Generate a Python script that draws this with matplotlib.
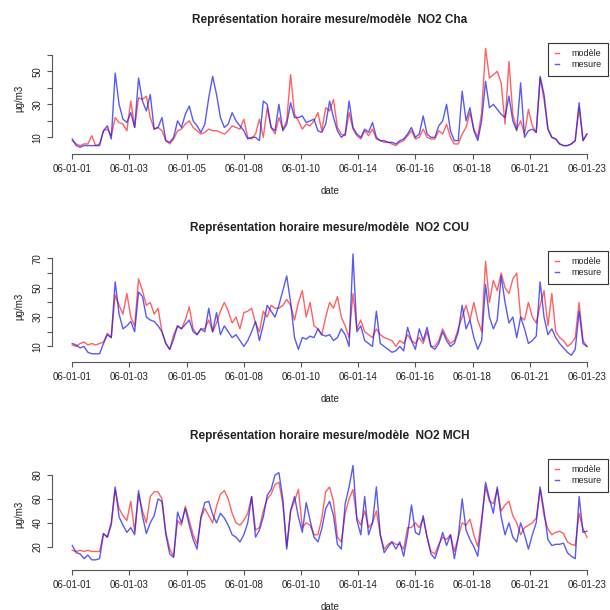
import numpy as np
import matplotlib.pyplot as plt

# 4-hourly values, 06-01-01 -> 06-01-23
tick_labels = ["06-01-01", "06-01-03", "06-01-05", "06-01-08", "06-01-10",
               "06-01-14", "06-01-16", "06-01-18", "06-01-21", "06-01-23"]

stations = ["Cha", "COU", "MCH"]

cha_mesure = [9, 5, 4, 5, 5, 5, 5, 5, 14, 17, 9, 49, 30, 21, 19, 25, 16, 46, 32, 26,
              36, 15, 16, 22, 8, 7, 10, 20, 16, 24, 29, 20, 17, 13, 18, 34, 47, 36, 22, 16,
              18, 25, 20, 17, 14, 9, 10, 10, 8, 32, 30, 16, 14, 30, 14, 18, 31, 22, 22, 23,
              19, 20, 21, 14, 13, 18, 32, 22, 14, 10, 12, 32, 16, 12, 10, 15, 13, 19, 10, 8,
              8, 7, 7, 6, 8, 9, 12, 16, 10, 12, 23, 12, 10, 10, 17, 20, 30, 14, 8, 8,
              38, 20, 28, 14, 8, 20, 44, 28, 30, 27, 24, 22, 35, 20, 14, 43, 10, 14, 15, 13,
              47, 36, 15, 10, 9, 6, 5, 5, 6, 8, 31, 8, 12]
cha_modele = [8, 6, 5, 6, 6, 11, 5, 6, 14, 15, 11, 22, 19, 18, 14, 32, 16, 34, 33, 35,
              22, 15, 16, 14, 8, 6, 9, 14, 15, 18, 20, 16, 14, 12, 13, 15, 14, 14, 13, 12,
              14, 17, 16, 15, 21, 10, 9, 12, 21, 10, 28, 16, 12, 22, 15, 20, 48, 24, 20, 15,
              18, 17, 20, 25, 14, 28, 26, 33, 16, 12, 11, 25, 15, 11, 9, 14, 11, 15, 9, 8,
              7, 7, 6, 5, 7, 8, 11, 14, 9, 10, 15, 10, 9, 9, 14, 12, 18, 10, 6, 6,
              12, 16, 25, 15, 10, 25, 64, 46, 48, 50, 43, 18, 56, 24, 15, 20, 12, 27, 17, 13,
              46, 33, 15, 10, 9, 6, 5, 5, 6, 8, 28, 8, 12]

cou_mesure = [12, 11, 9, 10, 6, 5, 5, 5, 12, 18, 16, 54, 32, 22, 24, 27, 20, 47, 44, 30,
              28, 27, 24, 20, 12, 8, 15, 24, 22, 25, 28, 20, 18, 22, 20, 36, 20, 33, 18, 24,
              20, 16, 18, 14, 10, 14, 20, 27, 14, 25, 38, 34, 30, 38, 48, 58, 40, 16, 8, 16,
              15, 17, 16, 22, 18, 17, 18, 14, 16, 22, 18, 10, 73, 20, 24, 14, 12, 10, 34, 12,
              10, 8, 6, 7, 10, 7, 23, 14, 8, 22, 14, 23, 10, 8, 12, 20, 14, 10, 12, 20,
              38, 22, 28, 16, 8, 14, 52, 30, 22, 28, 58, 40, 26, 30, 16, 30, 22, 12, 14, 17,
              54, 30, 18, 22, 16, 12, 9, 6, 4, 8, 34, 12, 10]
cou_modele = [11, 10, 12, 13, 11, 12, 11, 12, 13, 19, 16, 45, 38, 32, 46, 30, 24, 56, 48, 38,
              40, 32, 36, 20, 12, 8, 18, 24, 22, 28, 37, 22, 18, 22, 22, 28, 20, 26, 34, 40,
              34, 26, 30, 22, 33, 34, 36, 26, 20, 34, 30, 38, 36, 36, 38, 42, 38, 28, 40, 48,
              30, 40, 24, 22, 18, 30, 40, 36, 44, 30, 24, 16, 46, 22, 28, 20, 18, 16, 22, 18,
              16, 15, 14, 10, 14, 12, 18, 14, 12, 16, 12, 20, 10, 10, 14, 22, 16, 12, 14, 22,
              30, 38, 28, 40, 28, 20, 68, 40, 55, 48, 60, 50, 46, 56, 60, 30, 28, 40, 30, 26,
              38, 48, 24, 46, 20, 16, 14, 10, 12, 16, 40, 14, 10]

mch_mesure = [21, 15, 14, 10, 13, 9, 9, 10, 31, 28, 40, 70, 45, 38, 32, 36, 30, 67, 46, 31,
              40, 46, 60, 58, 30, 14, 11, 49, 40, 52, 38, 26, 18, 45, 57, 58, 47, 40, 48, 44,
              38, 30, 28, 24, 30, 40, 62, 28, 34, 45, 63, 68, 80, 82, 60, 18, 50, 62, 45, 32,
              57, 42, 28, 24, 35, 52, 58, 46, 22, 18, 56, 70, 88, 42, 30, 62, 30, 40, 70, 30,
              15, 20, 24, 18, 24, 12, 30, 55, 32, 30, 46, 28, 14, 10, 20, 32, 21, 30, 10, 28,
              60, 34, 26, 20, 12, 40, 74, 60, 48, 70, 45, 30, 40, 28, 24, 40, 30, 18, 30, 40,
              70, 50, 26, 21, 22, 22, 23, 15, 12, 10, 62, 32, 33]
mch_modele = [17, 16, 17, 16, 17, 16, 16, 16, 31, 28, 38, 68, 52, 46, 42, 58, 33, 64, 50, 40,
              62, 66, 66, 60, 32, 18, 12, 42, 38, 54, 42, 30, 22, 44, 52, 46, 40, 54, 64, 67,
              60, 48, 40, 38, 42, 48, 62, 34, 36, 50, 60, 64, 72, 74, 56, 20, 50, 58, 68, 36,
              40, 38, 30, 30, 44, 66, 70, 58, 28, 24, 48, 60, 68, 44, 38, 50, 36, 40, 50, 30,
              18, 22, 24, 22, 22, 18, 36, 36, 40, 36, 44, 28, 16, 14, 22, 28, 26, 30, 16, 28,
              40, 38, 43, 30, 20, 44, 70, 58, 56, 68, 50, 55, 58, 46, 40, 30, 36, 38, 40, 44,
              68, 46, 35, 30, 32, 33, 31, 24, 22, 21, 48, 35, 28]

series = [(cha_mesure, cha_modele), (cou_mesure, cou_modele), (mch_mesure, mch_modele)]
ylims = [(-0.1, 67.4), (-0.6, 75.2), (0.5, 93.7)]
yticks = [np.arange(10, 61, 10), np.arange(10, 71, 10), np.arange(20, 81, 20)]
ylabels_shown = [[10, 30, 50], [10, 30, 50, 70], [20, 40, 60, 80]]

plt.rcParams['font.family'] = ['Liberation Sans', 'DejaVu Sans']
axis_col = "#555555"
text_col = "#222222"

W = H = 610.0
fig = plt.figure(figsize=(6.1, 6.1), dpi=100)

for k in range(3):
    mesure, modele = series[k]
    top = 42.7 + 208 * k
    bottom = 154 + 208 * k
    ax = fig.add_axes([51.7 / W, 1 - bottom / H, (607.5 - 51.7) / W, (bottom - top) / H])
    x = np.arange(len(mesure))
    n = len(mesure) - 1

    ax.plot(x, modele, color=(1.0, 0.15, 0.15), alpha=0.72, lw=1.0, label="modèle")
    ax.plot(x, mesure, color=(0.1, 0.1, 0.95), alpha=0.72, lw=1.0, label="mesure")

    ax.set_xlim(-0.04 * n, 1.04 * n)
    ax.set_ylim(*ylims[k])

    for s in ["top", "right"]:
        ax.spines[s].set_visible(False)
    ax.spines["left"].set_bounds(yticks[k][0], yticks[k][-1])
    ax.spines["bottom"].set_bounds(0, n)
    for s in ["left", "bottom"]:
        ax.spines[s].set_color(axis_col)
        ax.spines[s].set_linewidth(0.8)

    ax.set_xticks(np.linspace(0, n, len(tick_labels)))
    ax.set_xticklabels(tick_labels)
    ax.set_yticks(yticks[k])
    ax.set_yticklabels([str(v) if v in ylabels_shown[k] else "" for v in yticks[k]],
                       rotation=90, va="center")
    ax.tick_params(colors=axis_col, labelcolor=text_col, labelsize=7, length=3.5,
                   width=0.8, direction="out")
    ax.tick_params(axis="x", pad=4)
    ax.tick_params(axis="y", pad=3)

    ax.set_xlabel("date", fontsize=7, color=text_col, labelpad=8)
    ax.set_ylabel("µg/m3", fontsize=7, color=text_col, labelpad=6)
    ax.set_title("Représentation horaire mesure/modèle  NO2 " + stations[k],
                 fontsize=8.5, fontweight="bold", color=text_col, pad=14)

    leg = ax.legend(loc="upper right", bbox_to_anchor=(1, 1), borderaxespad=0,
                    fontsize=6.5, handlelength=0.5, handletextpad=1.3, borderpad=0.7,
                    labelspacing=0.25, fancybox=False, framealpha=1)
    leg.get_frame().set_edgecolor("#333333")
    leg.get_frame().set_linewidth(0.8)
    for t in leg.get_texts():
        t.set_color(text_col)

fig.savefig("out.png", dpi=100)
